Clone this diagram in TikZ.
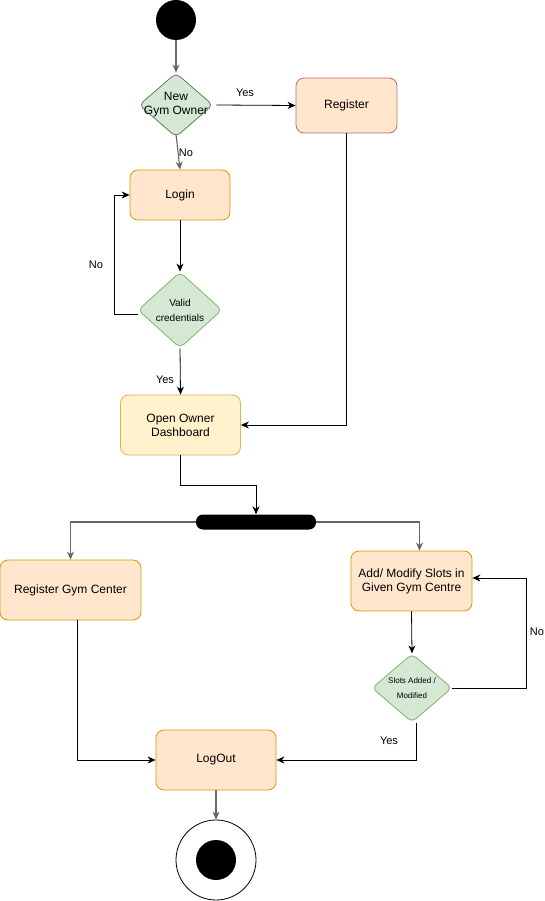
\documentclass[tikz,border=0pt]{standalone}
\usepackage{fontspec}
\setmainfont{Liberation Sans}
\usetikzlibrary{arrows.meta,shapes.geometric,positioning}
\definecolor{orfill}{HTML}{FFE6CC}
\definecolor{orline}{HTML}{D79B00}
\definecolor{redline}{HTML}{C96A66}
\definecolor{yefill}{HTML}{FFF2CC}
\definecolor{yeline}{HTML}{D6B656}
\definecolor{grfill}{HTML}{D5E8D4}
\definecolor{grline}{HTML}{82B366}
\definecolor{grayline}{HTML}{666666}
\tikzset{
  x=1pt, y=-1pt,
  every node/.style={font=\fontsize{12}{14}\selectfont},
  action/.style={draw=orline, fill=orfill, rounded corners=8pt, line width=0.8pt,
    align=center, inner sep=0pt},
  decision/.style={diamond, draw=grline, fill=grfill, rounded corners=5pt,
    line width=0.8pt, align=center, inner sep=0pt},
  flow/.style={-{Stealth[length=8pt,width=7pt,inset=2.5pt]}, line width=0.8pt, black},
  grayflow/.style={flow, draw=grayline, line width=1.1pt},
  lbl/.style={font=\fontsize{11}{13}\selectfont}
}
\begin{document}
\begin{tikzpicture}
\useasboundingbox (0,0) rectangle (544,901);

% start and end states
\node[circle, fill=black, minimum size=40pt, inner sep=0pt] (start) at (176,20) {};
\node[circle, draw=black, fill=white, line width=0.8pt, minimum size=80pt, inner sep=0pt] (stop) at (216,860) {};
\node[circle, fill=black, minimum size=40pt, inner sep=0pt] (stopdot) at (216,860) {};

% decisions (the first one's caption is wider than the shape itself)
\node[decision, draw=grayline!80!grline, minimum width=74pt, minimum height=64pt,
  label={[align=center, font=\fontsize{12}{14}\selectfont]center:New\\Gym Owner}] (owner) at (176,105) {};
\node[decision, minimum width=84pt, minimum height=76pt,
  font=\fontsize{10}{15}\selectfont] (valid) at (180,310) {Valid\\credentials};
\node[decision, minimum width=80pt, minimum height=64pt,
  font=\fontsize{8}{15}\selectfont] (slots) at (412,688) {Slots Added /\\Modified};

% actions
\node[action, draw=redline, minimum width=101pt, minimum height=55pt] (reg) at (346.5,105.5) {Register};
\node[action, minimum width=100pt, minimum height=50pt] (login) at (180,195) {Login};
\node[action, draw=yeline, fill=yefill, minimum width=120pt, minimum height=60pt] (dash) at (180.5,425)
  {Open Owner\\Dashboard};
\node[action, minimum width=141pt, minimum height=60pt] (rgc) at (70.5,590) {Register Gym Center};
\node[action, minimum width=121pt, minimum height=60pt] (add) at (411.5,581)
  {Add/ Modify Slots in\\Given Gym Centre};
\node[action, minimum width=120pt, minimum height=60pt] (logout) at (216,760) {LogOut};

% fork bar
\node[fill=black, rounded corners=7pt, minimum width=120pt, minimum height=15pt, inner sep=0pt] (bar) at (256,522) {};

% connectors
\draw[grayflow] (start.south) -- (owner.north);
\draw[flow] ([xshift=3pt]owner.east) -- (reg.west);
\node[lbl] (yeslbl1) at (245,93) {Yes};
\draw[grayflow] ([yshift=3pt]owner.south) -- (login.north);
\node[lbl] (nolbl1) at (186,153) {No};
\draw[flow] (login.south) -- (valid.north);
\draw[flow] ([yshift=-4pt]valid.west) -- ++(-23,0) coordinate (loopa) |- (login.west);
\node[lbl] (nolbl) at (96,265) {No};
\draw[flow] (valid.south) -- (dash.north);
\node[lbl] (yeslbl2) at (165,380) {Yes};
\draw[flow] (reg.south) |- (dash.east);
\draw[flow] (dash.south) -- ++(0,30) -| (bar.north);
\draw[grayflow] (bar.west) -| (rgc.north);
\draw[grayflow] (bar.east) -| ([xshift=8pt]add.north);
\draw[flow] (add.south) -- (slots.north);
\draw[flow] (slots.east) -- ++(74,0) coordinate (loopb) |- ([yshift=3pt]add.east);
\node[lbl] (nolbl2) at (537,632) {No};
\draw[flow] ([xshift=4pt]slots.south) |- (logout.east);
\node[lbl] (yeslbl) at (389,741) {Yes};
\draw[flow] ([xshift=7pt]rgc.south) |- (logout.west);
\draw[grayflow] (logout.south) -- (stop.north);
\end{tikzpicture}
\end{document}
